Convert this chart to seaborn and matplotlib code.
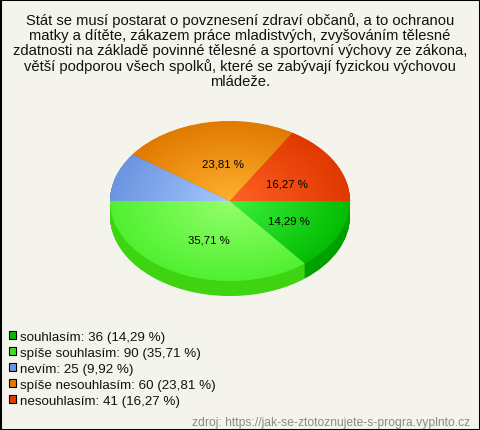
import numpy as np
import seaborn as sns
from matplotlib import pyplot as plt
from matplotlib.colors import to_rgb
from matplotlib.patches import Patch, Rectangle

categories = ['souhlasím', 'spíše souhlasím', 'nevím', 'spíše nesouhlasím', 'nesouhlasím']
counts = [36, 90, 25, 60, 41]
percents = ['14,29', '35,71', '9,92', '23,81', '16,27']
show_on_slice = [True, True, False, True, True]

title = ('Stát se musí postarat o povznesení zdraví občanů, a to ochranou\n'
         'matky a dítěte, zákazem práce mladistvých, zvyšováním tělesné\n'
         'zdatnosti na základě povinné tělesné a sportovní výchovy ze zákona,\n'
         'větší podporou všech spolků, které se zabývají fyzickou výchovou\n'
         'mládeže.')
source = 'zdroj: https://jak-se-ztotoznujete-s-progra.vyplnto.cz'

legend_colors = ['#06b806', '#44dc22', '#6f97e0', '#e07c00', '#e23c00']
inner_colors = ['#3cf03c', '#94ff6c', '#a4c8ff', '#ffb030', '#ff6224']
outer_colors = ['#04bc04', '#50f030', '#6c94e0', '#e07a00', '#e03800']
side_colors = ['#00a000', '#3ed412', '#5078c0', '#c06000', '#c03000']

W, H = 480, 431
CX, CY, RX, RY, DEPTH = 230, 202, 120, 80, 15
BG = '#f5f4ec'

sns.set_theme(style='white')
plt.rcParams['font.family'] = ['Liberation Sans', 'DejaVu Sans']

fig = plt.figure(figsize=(W / 100, H / 100), dpi=100, facecolor=BG)
ax = fig.add_axes([0, 0, 1, 1])

# side of the 3d pie: stacked copies going down
for d in np.arange(DEPTH, 0, -0.5):
    ax.pie(counts, colors=sns.color_palette(side_colors), startangle=0,
           counterclock=False, center=(0, -d / RY), radius=1, frame=True,
           wedgeprops={'linewidth': 0})

wedges, _, autotexts = ax.pie(counts, colors=sns.color_palette(inner_colors),
                              startangle=0, counterclock=False, radius=1, frame=True,
                              autopct='%.0f', pctdistance=0.5,
                              wedgeprops={'linewidth': 0},
                              textprops={'fontsize': 8.2, 'color': 'black'})

# radial gradient for each slice
gx, gy = np.meshgrid(np.linspace(-1.02, 1.02, 500), np.linspace(-1.02, 1.02, 500))
rr = np.clip(np.hypot(gx, gy), 0, 1)[..., None]
for wedge, c_in, c_out in zip(wedges, inner_colors, outer_colors):
    img = np.array(to_rgb(c_in)) + (np.array(to_rgb(c_out)) - np.array(to_rgb(c_in))) * rr
    wedge.set_facecolor('none')
    im = ax.imshow(img, extent=(-1.02, 1.02, -1.02, 1.02), origin='lower', aspect='auto',
                   interpolation='bilinear', zorder=1.5)
    im.set_clip_path(wedge)

for txt, pct, show in zip(autotexts, percents, show_on_slice):
    txt.set_text(f'{pct} %' if show else '')
    txt.set_zorder(5)
    x, y = txt.get_position()
    txt.set_position((x + 4.5 / RX, y - 2 / RY))

ax.set_aspect('auto')
ax.set_xlim(-CX / RX, (W - CX) / RX)
ax.set_ylim(-(H - CY) / RY, CY / RY)
ax.axis('off')

fig.text(240 / W, 1 - 13 / H, title, ha='center', va='top', fontsize=10.6,
         color='#111111', linespacing=1.09)

handles = [Patch(facecolor=c, edgecolor='black', linewidth=0.8) for c in legend_colors]
labels = [f'{n}: {v} ({p} %)' for n, v, p in zip(categories, counts, percents)]
fig.legend(handles, labels, loc='lower left', bbox_to_anchor=(8.5 / W, 1 - 408 / H),
           bbox_transform=fig.transFigure, frameon=False, fontsize=9.6,
           labelspacing=0.3, handlelength=0.58, handleheight=0.58, handletextpad=0.26,
           borderpad=0, borderaxespad=0, labelcolor='#111111')

fig.text(470 / W, 1 - 426 / H, source, ha='right', va='baseline', fontsize=8.75, color='#8a8a8a')

fig.add_artist(Rectangle((0, 0), 1, 1, transform=fig.transFigure, fill=False,
                         edgecolor='black', linewidth=2.2))

fig.savefig('out.png', dpi=100, facecolor=BG)
